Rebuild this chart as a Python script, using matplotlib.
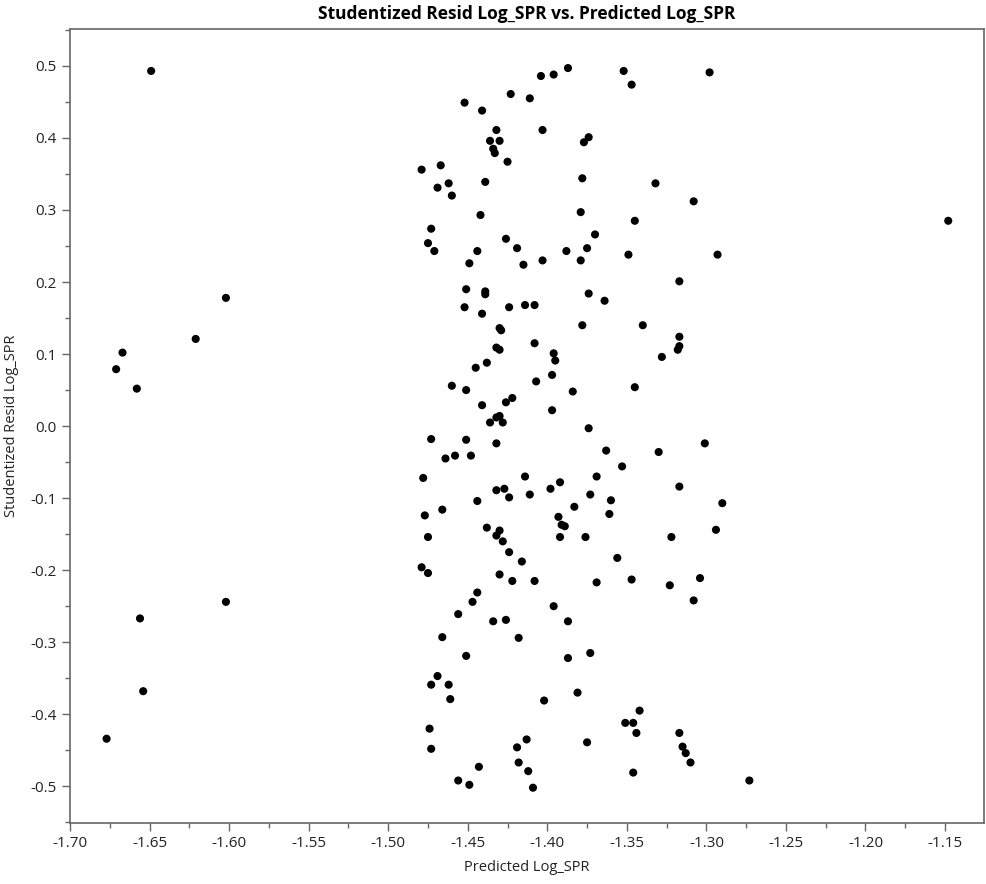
import numpy as np
import matplotlib
matplotlib.use("Agg")
import matplotlib.pyplot as plt
from matplotlib.ticker import MultipleLocator, FormatStrFormatter

plt.rcParams['font.family'] = ['Open Sans', 'DejaVu Sans']
plt.rcParams['axes.unicode_minus'] = False

# outlying points
out_x = [-1.649, -1.602, -1.621, -1.667, -1.671, -1.658, -1.602, -1.656, -1.654, -1.677, -1.148, -1.273]
out_y = [0.493, 0.178, 0.121, 0.102, 0.079, 0.052, -0.244, -0.267, -0.368, -0.434, 0.285, -0.492]

# main band of points
band_x = [
    -1.452, -1.441, -1.423, -1.411, -1.404, -1.396, -1.387, -1.352, -1.347, -1.298,
    -1.432, -1.436, -1.430, -1.434, -1.433, -1.425, -1.403, -1.374, -1.377, -1.479,
    -1.467, -1.462, -1.469, -1.460, -1.439, -1.378, -1.332, -1.308, -1.442, -1.379,
    -1.345, -1.473, -1.475, -1.426, -1.370, -1.471, -1.444, -1.419, -1.449, -1.415,
    -1.403, -1.388, -1.375, -1.379, -1.349, -1.293, -1.317, -1.451, -1.439, -1.439,
    -1.452, -1.441, -1.424, -1.414, -1.408, -1.374, -1.364, -1.378, -1.340, -1.317,
    -1.317, -1.318, -1.328, -1.430, -1.429, -1.432, -1.430, -1.408, -1.396, -1.395,
    -1.438, -1.445, -1.460, -1.451, -1.407, -1.397, -1.384, -1.345, -1.441, -1.426,
    -1.422, -1.397, -1.436, -1.432, -1.430, -1.428, -1.374, -1.473, -1.451, -1.432,
    -1.464, -1.458, -1.448, -1.363, -1.330, -1.301, -1.353, -1.478, -1.414, -1.369,
    -1.432, -1.427, -1.424, -1.411, -1.398, -1.392, -1.373, -1.317, -1.290, -1.444,
    -1.360, -1.383, -1.361, -1.477, -1.466, -1.393, -1.391, -1.389, -1.392, -1.376,
    -1.322, -1.294, -1.475, -1.438, -1.430, -1.432, -1.428, -1.424, -1.416, -1.356,
    -1.479, -1.475, -1.430, -1.422, -1.408, -1.369, -1.347, -1.323, -1.304, -1.308,
    -1.444, -1.447, -1.396, -1.456, -1.434, -1.426, -1.387, -1.466, -1.418, -1.451,
    -1.387, -1.373, -1.469, -1.473, -1.462, -1.461, -1.402, -1.381, -1.342, -1.351,
    -1.346, -1.344, -1.317, -1.474, -1.473, -1.413, -1.419, -1.375, -1.315, -1.313,
    -1.310, -1.418, -1.412, -1.409, -1.443, -1.456, -1.449, -1.346,
]
band_y = [
    0.449, 0.438, 0.461, 0.455, 0.486, 0.488, 0.497, 0.493, 0.474, 0.491,
    0.411, 0.396, 0.396, 0.385, 0.379, 0.367, 0.411, 0.401, 0.394, 0.356,
    0.362, 0.337, 0.331, 0.320, 0.339, 0.344, 0.337, 0.312, 0.293, 0.297,
    0.285, 0.274, 0.254, 0.260, 0.266, 0.243, 0.243, 0.247, 0.226, 0.224,
    0.230, 0.243, 0.247, 0.230, 0.238, 0.238, 0.201, 0.190, 0.187, 0.183,
    0.165, 0.156, 0.165, 0.168, 0.168, 0.184, 0.174, 0.140, 0.140, 0.124,
    0.111, 0.106, 0.096, 0.136, 0.133, 0.109, 0.106, 0.115, 0.101, 0.091,
    0.088, 0.081, 0.056, 0.050, 0.062, 0.071, 0.048, 0.054, 0.029, 0.033,
    0.039, 0.022, 0.005, 0.012, 0.014, 0.005, -0.003, -0.018, -0.019, -0.024,
    -0.045, -0.041, -0.041, -0.034, -0.036, -0.024, -0.056, -0.072, -0.070, -0.070,
    -0.089, -0.087, -0.099, -0.095, -0.087, -0.078, -0.095, -0.084, -0.107, -0.104,
    -0.103, -0.112, -0.122, -0.124, -0.116, -0.126, -0.137, -0.139, -0.154, -0.154,
    -0.154, -0.144, -0.154, -0.141, -0.145, -0.152, -0.160, -0.175, -0.188, -0.183,
    -0.196, -0.204, -0.206, -0.215, -0.215, -0.217, -0.213, -0.221, -0.211, -0.242,
    -0.231, -0.244, -0.250, -0.261, -0.271, -0.269, -0.271, -0.293, -0.294, -0.319,
    -0.322, -0.315, -0.347, -0.359, -0.359, -0.379, -0.381, -0.370, -0.395, -0.412,
    -0.412, -0.426, -0.426, -0.420, -0.448, -0.435, -0.446, -0.439, -0.445, -0.454,
    -0.467, -0.467, -0.479, -0.502, -0.473, -0.492, -0.498, -0.481,
]

pred = np.array(out_x + band_x)
resid = np.array(out_y + band_y)

fig = plt.figure(figsize=(9.86, 8.84), dpi=100)
ax = fig.add_axes([0.071, 0.069, 0.927, 0.898])

ax.scatter(pred, resid, s=34, color='black', edgecolors='none', zorder=3)

ax.set_xlim(-1.70, -1.1255)
ax.set_ylim(-0.551, 0.551)
ax.xaxis.set_major_locator(MultipleLocator(0.05))
ax.xaxis.set_minor_locator(MultipleLocator(0.025))
ax.yaxis.set_major_locator(MultipleLocator(0.1))
ax.yaxis.set_minor_locator(MultipleLocator(0.05))
ax.xaxis.set_major_formatter(FormatStrFormatter('%.2f'))
ax.yaxis.set_major_formatter(FormatStrFormatter('%.1f'))

for sp in ax.spines.values():
    sp.set_color('#666666')
    sp.set_linewidth(1.2)

ax.tick_params(which='major', direction='out', length=6, width=1, color='#666666',
               labelsize=11, labelcolor='#222222')
ax.tick_params(which='minor', direction='out', length=3.5, width=1, color='#666666')

ax.set_title('Studentized Resid Log_SPR vs. Predicted Log_SPR', fontsize=12.5,
             fontweight='bold', pad=7)
ax.set_xlabel('Predicted Log_SPR', fontsize=10.5, color='#222222', labelpad=6)
ax.set_ylabel('Studentized Resid Log_SPR', fontsize=10.5, color='#222222', labelpad=8)

fig.savefig('out.png', dpi=100)
